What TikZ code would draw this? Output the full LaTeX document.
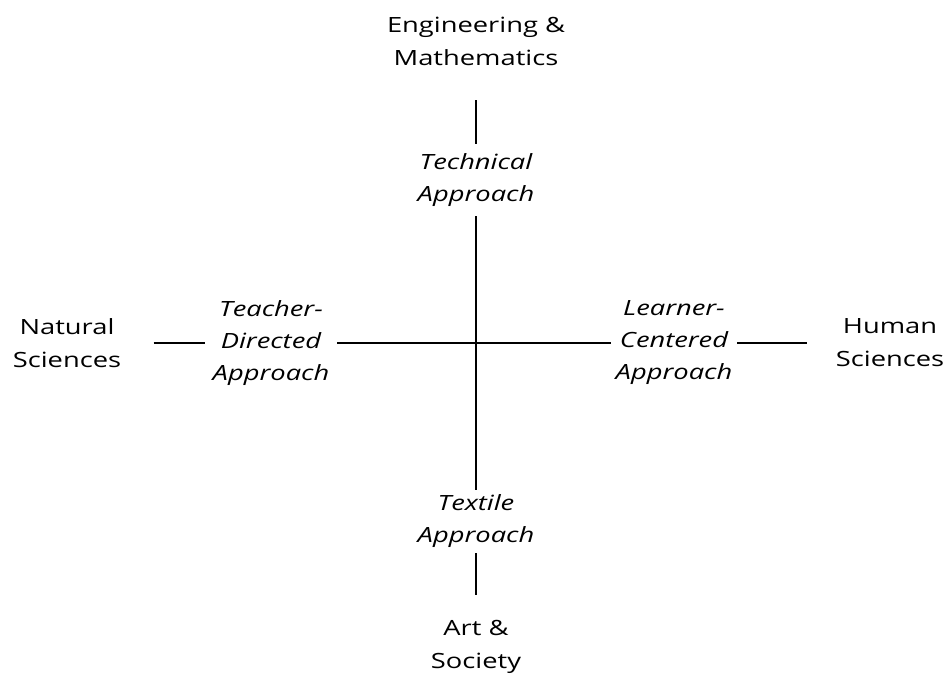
\documentclass[tikz,border=0pt]{standalone}
\usepackage{fontspec}
\setmainfont{Open Sans}[FakeStretch=1.3]
\begin{document}
\begin{tikzpicture}[x=1pt,y=-1pt,
  lbl/.style={inner sep=0pt, align=center, font=\fontsize{21}{33}\selectfont},
  appr/.style={lbl, font=\fontsize{21}{32}\selectfont\itshape},
  axis/.style={draw=black, line width=1.1pt}]
\useasboundingbox (0,0) rectangle (947,673);

% outer poles
\node[lbl, minimum height=118] (eng) at (476,41) {Engineering \&\\Mathematics};
\node[lbl, minimum height=104] (art) at (476,647) {Art \&\\Society};
\node[lbl, minimum width=173] (nat) at (67,343) {Natural\\Sciences};
\node[lbl, minimum width=166] (hum) at (890,343) {Human\\Sciences};

% approaches
\node[appr, minimum height=72] (tech) at (476,180) {Technical\\Approach};
\node[appr, minimum height=63] (tex) at (476,521.5) {Textile\\Approach};
\node[appr, minimum width=132] (tda) at (271,343) {Teacher-\\Directed\\Approach};
\node[appr, minimum width=126] (lca) at (674,343) {Learner-\\Centered\\Approach};

% axes
\draw[axis] (eng.south) -- (tech.north);
\draw[axis] (tech.south) -- (tex.north);
\draw[axis] (tex.south) -- (art.north);
\draw[axis] (nat.east) -- (tda.west);
\draw[axis] (tda.east) -- (lca.west);
\draw[axis] (lca.east) -- (hum.west);
\end{tikzpicture}
\end{document}
